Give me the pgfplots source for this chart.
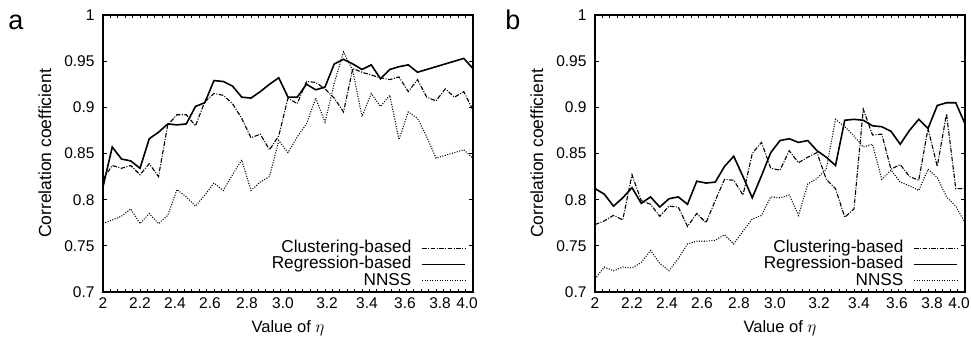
\documentclass[border=0pt]{standalone}
\usepackage{fontspec}
\setmainfont{Liberation Sans}
\usepackage{pgfplots}
\pgfplotsset{compat=1.18}
\usepackage{pgfplotstable}

\pgfplotstableread{
eta clu reg nnss
2.00 0.822 0.814 0.774
2.05 0.837 0.857 0.778
2.10 0.834 0.844 0.782
2.15 0.837 0.842 0.790
2.20 0.827 0.834 0.774
2.25 0.839 0.866 0.785
2.30 0.825 0.873 0.774
2.35 0.881 0.882 0.783
2.40 0.892 0.881 0.811
2.45 0.892 0.882 0.803
2.50 0.880 0.901 0.793
2.55 0.906 0.905 0.805
2.60 0.915 0.929 0.818
2.65 0.913 0.928 0.810
2.70 0.904 0.923 0.827
2.75 0.888 0.911 0.843
2.80 0.867 0.910 0.810
2.85 0.871 0.917 0.819
2.90 0.854 0.925 0.825
2.95 0.869 0.932 0.864
3.00 0.910 0.911 0.851
3.05 0.904 0.911 0.868
3.10 0.928 0.925 0.882
3.15 0.927 0.919 0.910
3.20 0.920 0.922 0.884
3.25 0.910 0.947 0.926
3.30 0.895 0.952 0.960
3.35 0.942 0.947 0.940
3.40 0.938 0.941 0.890
3.45 0.935 0.946 0.915
3.50 0.932 0.931 0.901
3.55 0.930 0.941 0.913
3.60 0.933 0.944 0.865
3.65 0.917 0.946 0.895
3.70 0.930 0.938 0.888
3.75 0.911 0.941 0.868
3.80 0.907 0.944 0.845
3.85 0.920 0.947 0.848
3.90 0.911 0.950 0.851
3.95 0.917 0.953 0.854
4.00 0.897 0.942 0.845
}\tablea

\pgfplotstableread{
eta clu reg nnss
2.00 0.773 0.812 0.714
2.05 0.777 0.806 0.727
2.10 0.783 0.793 0.723
2.15 0.778 0.802 0.727
2.20 0.827 0.813 0.726
2.25 0.799 0.796 0.732
2.30 0.795 0.803 0.745
2.35 0.782 0.792 0.731
2.40 0.793 0.801 0.723
2.45 0.792 0.803 0.736
2.50 0.771 0.795 0.752
2.55 0.785 0.820 0.755
2.60 0.775 0.818 0.755
2.65 0.799 0.819 0.756
2.70 0.822 0.836 0.762
2.75 0.821 0.847 0.752
2.80 0.805 0.825 0.766
2.85 0.850 0.802 0.779
2.90 0.862 0.826 0.783
2.95 0.834 0.851 0.803
3.00 0.832 0.864 0.802
3.05 0.853 0.866 0.805
3.10 0.840 0.862 0.783
3.15 0.846 0.864 0.817
3.20 0.851 0.853 0.823
3.25 0.822 0.846 0.833
3.30 0.812 0.837 0.887
3.35 0.781 0.886 0.879
3.40 0.790 0.887 0.869
3.45 0.898 0.886 0.857
3.50 0.870 0.880 0.860
3.55 0.871 0.879 0.822
3.60 0.833 0.874 0.832
3.65 0.838 0.860 0.819
3.70 0.825 0.875 0.815
3.75 0.821 0.887 0.810
3.80 0.877 0.877 0.833
3.85 0.836 0.902 0.824
3.90 0.893 0.905 0.803
3.95 0.812 0.905 0.793
4.00 0.812 0.882 0.775
}\tableb

\pgfplotsset{
  myaxis/.style={
    scale only axis, width=370pt, height=277pt,
    xmin=2, xmax=4, ymin=0.7, ymax=1,
    xtick={2,2.2,2.389,2.578,2.778,2.973,3.211,3.427,3.632,3.822,3.968},
    xticklabels={2,2.2,2.4,2.6,2.8,3.0,3.2,3.4,3.6,3.8,4.0},
    minor xtick={2,2.04,...,4},
    major x tick style={draw=none},
    ytick={0.7,0.75,0.8,0.85,0.9,0.95,1},
    yticklabels={0.7,0.75,0.8,0.85,0.9,0.95,1},
    major tick length=4pt, minor tick length=3pt,
    tick style={black, line width=0.8pt},
    axis line style={line width=1.1pt},
    tick label style={font=\fontsize{15.5}{18}\selectfont},
    xticklabel style={yshift=-2pt},
    yticklabel style={xshift=-5pt},
    xlabel={Value of $\eta$},
    ylabel={Correlation coefficient},
    xlabel style={font=\fontsize{16.5}{19}\selectfont, at={(axis description cs:0.5,-0.13)}, anchor=center},
    ylabel style={font=\fontsize{17.5}{20}\selectfont, at={(axis description cs:-0.157,0.5)}, anchor=center},
    legend plot pos=right,
    legend cell align=right,
    legend style={at={(0.981,0.012)}, anchor=south east, draw=none, fill=none,
      inner sep=0pt, outer sep=0pt, row sep=0.8pt, column sep=10pt,
      font=\fontsize{17.2}{20}\selectfont,
      nodes={inner sep=0pt, text height=12pt, text depth=3.5pt}},
    legend image code/.code={\draw[##1] (0pt,0pt) -- (43pt,0pt);},
  },
  clu/.style={black, line width=1.1pt, dash pattern=on 4.5pt off 1.5pt on 1pt off 1.5pt},
  reg/.style={black, line width=1.6pt},
  nn/.style={black, line width=1.1pt, dash pattern=on 1pt off 1.5pt},
}

\begin{document}
\begin{tikzpicture}[font=\fontsize{15.5}{18}\selectfont]
\useasboundingbox (0,0) rectangle (971pt,340pt);
\begin{axis}[myaxis, at={(103pt,48pt)}, anchor=south west]
\addplot[clu] table[x=eta,y=clu] {\tablea};
\addplot[reg] table[x=eta,y=reg] {\tablea};
\addplot[nn] table[x=eta,y=nnss] {\tablea};
\legend{Clustering-based,Regression-based,NNSS}
\end{axis}
\begin{axis}[myaxis, at={(595pt,48pt)}, anchor=south west]
\addplot[clu] table[x=eta,y=clu] {\tableb};
\addplot[reg] table[x=eta,y=reg] {\tableb};
\addplot[nn] table[x=eta,y=nnss] {\tableb};
\legend{Clustering-based,Regression-based,NNSS}
\end{axis}
\node[font=\fontsize{27}{30}\selectfont] at (16pt,318pt) {a};
\node[font=\fontsize{27}{30}\selectfont] at (513pt,320pt) {b};
\end{tikzpicture}
\end{document}
